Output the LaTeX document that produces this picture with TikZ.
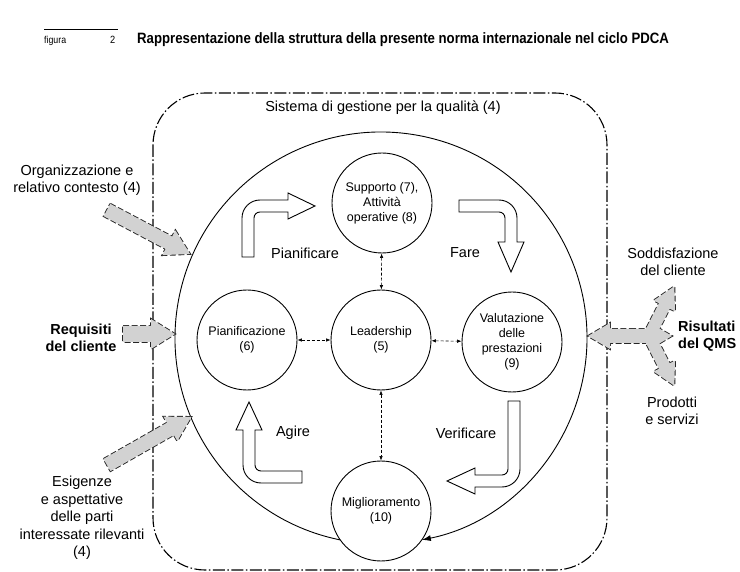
\documentclass[tikz,border=0pt]{standalone}
\usepackage{fontspec}
\setmainfont{Liberation Sans}
\newfontfamily\narrowfont[FakeStretch=0.88]{Liberation Sans}
\usetikzlibrary{arrows.meta,calc}

% straight block arrow: style, tail x, tail y, angle, length, half shaft, half head, head length
\newcommand\blockarrow[8]{%
  \path[#1, shift={(#2,#3)}, rotate=#4]
    (0,#6) -- ({#5-#8},#6) -- ({#5-#8},#7) -- (#5,0) -- ({#5-#8},-#7)
    -- ({#5-#8},-#6) -- (0,-#6) -- cycle;}

% hollow bent arrow of the PDCA cycle: corner x, corner y, rotation, tail length, shaft length, head length
\newcommand\bentarrow[6]{%
  \draw[bendarrow, shift={(#1,#2)}, rotate=#3]
    (-6,-#4) -- (-6,-12) arc[start angle=180,end angle=90,radius=18]
    -- (#5,6) -- (#5,13) -- ({#5+#6},0) -- (#5,-13) -- (#5,-6)
    -- (12,-6) arc[start angle=90,end angle=180,radius=6] -- (6,-#4) -- cycle;}

\begin{document}
\begin{tikzpicture}[x=1pt,y=1pt,
  lbl/.style={font=\fontsize{14.5}{17}\selectfont, align=center, inner sep=0pt},
  unit/.style={circle, draw, line width=0.9pt, minimum size=100pt, inner sep=0pt,
               align=center, font=\fontsize{12.5}{15}\selectfont},
  link/.style={dash pattern=on 3pt off 2pt, line width=0.6pt,
               {Latex[length=4.5pt,width=3.5pt]}-{Latex[length=4.5pt,width=3.5pt]}},
  bendarrow/.style={fill=white, line width=0.9pt},
  grayedge/.style={draw=black!85, line width=1.8pt, dash pattern=on 6pt off 2.5pt},
  grayfill/.style={fill=gray!35},
  frame/.style={line width=1.1pt, dash pattern=on 12pt off 2.5pt on 1.5pt off 2.5pt,
                rounded corners=52pt}
]
\useasboundingbox (0,0) rectangle (740,-572);
\fill[white] (0,0) rectangle (740,-572);

% caption
\draw[line width=0.4pt] (44,-29) coordinate (rulea) -- (118,-29) coordinate (ruleb);
\node[anchor=base west, inner sep=0pt] (fig) at (44,-44) {\narrowfont\fontsize{10}{11}\selectfont figura};
\node[anchor=base west, inner sep=0pt] (fignum) at (110,-44) {\narrowfont\fontsize{10.5}{11}\selectfont 2};
\node[anchor=base west, inner sep=0pt] (title) at (137,-44)
  {\narrowfont\bfseries\fontsize{15}{17}\selectfont Rappresentazione della struttura della presente norma internazionale nel ciclo PDCA};

% quality management system boundary
\draw[frame] (153,-93) rectangle (607,-570);
\node[lbl] (sys) at (383,-108) {Sistema di gestione per la qualità (4)};

% process units
\node[unit] (plan) at (247,-340) {Pianificazione\\(6)};
\node[unit] (lead) at (381,-340) {Leadership\\(5)};
\node[unit] (eval) at (512,-342) {Valutazione\\delle\\prestazioni\\(9)};
\node[unit] (supp) at (382,-203) {Supporto (7),\\Attività\\operative (8)};
\node[unit] (impr) at (381,-511) {Miglioramento\\(10)};

% cycle around the units, ending in Miglioramento
\draw[line width=0.9pt, -{Latex[length=9pt,width=6pt]}]
  ([shift={(-101.45:206)}]381,-338) arc[start angle=-101.45, end angle=-438.55, radius=206];

% leadership links
\draw[link] (plan) -- (lead);
\draw[link] (lead) -- (eval);
\draw[link] (supp) -- (lead);
\draw[link] (lead) -- (impr);

% PDCA arrows
\bentarrow{248}{-206}{0}{51}{40}{27}
\bentarrow{511}{-206}{-90}{52}{36}{30}
\bentarrow{514}{-481}{180}{80}{39}{28}
\bentarrow{249}{-477}{90}{53}{47}{28}
\node[lbl] (pl) at (305,-253) {Pianificare};
\node[lbl] (do) at (465,-253) {Fare};
\node[lbl] (ck) at (466,-433) {Verificare};
\node[lbl] (ac) at (293,-433) {Agire};

% inputs and outputs: outlines first, fills on top
\foreach \pass in {grayedge,grayfill}{
  \blockarrow{\pass}{107}{-210}{-27.9}{94}{7}{14}{24}
  \blockarrow{\pass}{123}{-334}{0}{52}{8}{15}{24}
  \blockarrow{\pass}{107}{-465}{29.7}{97}{7}{14}{24}
  \blockarrow{\pass}{630}{-336}{180}{42}{7}{13}{22}
  \blockarrow{\pass}{630}{-336}{0}{42}{7}{13}{22}
  \blockarrow{\pass}{648}{-338}{63}{58}{6}{12}{22}
  \blockarrow{\pass}{648}{-334}{-63}{58}{6}{12}{22}
}

\node[lbl] (org) at (77,-180) {Organizzazione e\\relativo contesto (4)};
\node[lbl, font=\fontsize{14.5}{17}\selectfont\bfseries] (req) at (81,-338) {Requisiti\\del cliente};
\node[lbl, font=\fontsize{14.5}{17.5}\selectfont] (need) at (82,-518) {Esigenze\\e aspettative\\delle parti\\interessate rilevanti\\(4)};
\node[lbl] (sat) at (673,-262) {Soddisfazione\\del cliente};
\node[lbl, font=\fontsize{14.5}{17}\selectfont\bfseries, anchor=west, align=left] (res) at (678,-336) {Risultati\\del QMS};
\node[lbl] (prod) at (672,-411) {Prodotti\\e servizi};
\end{tikzpicture}
\end{document}
